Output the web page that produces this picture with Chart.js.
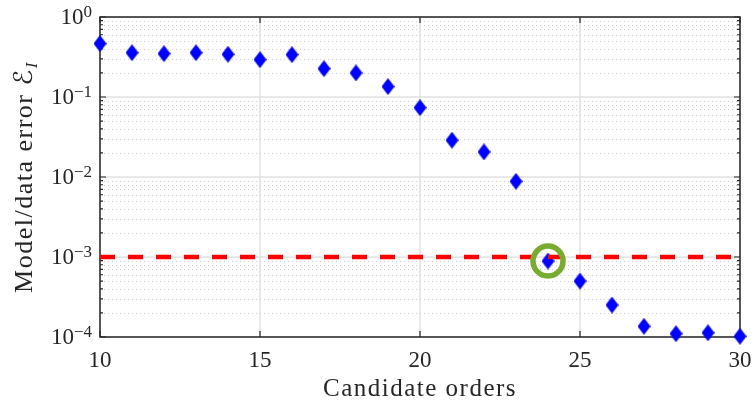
<!DOCTYPE html>
<html>
<head>
<meta charset="utf-8">
<script src="https://cdn.jsdelivr.net/npm/chart.js@4.4.1/dist/chart.umd.min.js"></script>
<style>
  html, body { margin: 0; padding: 0; background: #fff; }
  #chart { display: block; }
</style>
</head>
<body>
<canvas id="chart" width="753" height="405" style="width:753px;height:405px"></canvas>
<script>
// candidate orders and model/data error
const orders = [10, 11, 12, 13, 14, 15, 16, 17, 18, 19, 20, 21, 22, 23, 24, 25, 26, 27, 28, 29, 30];
const errors = [0.465, 0.358, 0.348, 0.358, 0.342, 0.293, 0.338, 0.226, 0.2, 0.135, 0.0736,
  0.0288, 0.0206, 0.00883, 0.00089, 0.0005, 0.000251, 0.000136, 0.00011, 0.000113, 0.000102];
const threshold = 1e-3;
const selectedOrder = [24];
const selectedError = [0.00089];
const xTicks = [10, 15, 20, 25, 30];
const yExponents = [0, -1, -2, -3, -4];

const textColor = "#262626";
const serif = "'Liberation Serif', 'DejaVu Serif', serif";

function makeDiamond(w, h, color) {
  const c = document.createElement("canvas");
  c.width = w;
  c.height = h;
  const g = c.getContext("2d");
  g.fillStyle = color;
  g.beginPath();
  g.moveTo(w / 2, 0);
  g.lineTo(w, h / 2);
  g.lineTo(w / 2, h);
  g.lineTo(0, h / 2);
  g.closePath();
  g.fill();
  return c;
}

const axesDecor = {
  id: "axesDecor",
  beforeDatasetsDraw(chart) {
    const { ctx, chartArea: a, scales: { x, y } } = chart;
    ctx.save();
    // minor y grid (dotted)
    ctx.strokeStyle = "#cfcfcf";
    ctx.lineWidth = 1;
    ctx.setLineDash([1, 3]);
    for (let d = -4; d < 0; d++) {
      for (let m = 2; m <= 9; m++) {
        const py = Math.round(y.getPixelForValue(m * Math.pow(10, d))) + 0.5;
        ctx.beginPath();
        ctx.moveTo(a.left, py);
        ctx.lineTo(a.right, py);
        ctx.stroke();
      }
    }
    // major grid
    ctx.setLineDash([]);
    ctx.strokeStyle = "#e0e0e0";
    ctx.lineWidth = 1.5;
    yExponents.forEach((e) => {
      const py = y.getPixelForValue(Math.pow(10, e));
      ctx.beginPath();
      ctx.moveTo(a.left, py);
      ctx.lineTo(a.right, py);
      ctx.stroke();
    });
    xTicks.forEach((t) => {
      const px = x.getPixelForValue(t);
      ctx.beginPath();
      ctx.moveTo(px, a.top);
      ctx.lineTo(px, a.bottom);
      ctx.stroke();
    });
    // box
    ctx.strokeStyle = textColor;
    ctx.lineWidth = 1.5;
    ctx.strokeRect(a.left, a.top, a.right - a.left, a.bottom - a.top);
    // tick marks
    ctx.lineWidth = 1.2;
    ctx.beginPath();
    xTicks.forEach((t) => {
      const px = x.getPixelForValue(t);
      ctx.moveTo(px, a.bottom);
      ctx.lineTo(px, a.bottom - 6);
      ctx.moveTo(px, a.top);
      ctx.lineTo(px, a.top + 6);
    });
    for (let d = -4; d <= 0; d++) {
      const py = y.getPixelForValue(Math.pow(10, d));
      ctx.moveTo(a.left, py);
      ctx.lineTo(a.left + 6, py);
      ctx.moveTo(a.right, py);
      ctx.lineTo(a.right - 6, py);
      if (d < 0) {
        for (let m = 2; m <= 9; m++) {
          const pm = y.getPixelForValue(m * Math.pow(10, d));
          ctx.moveTo(a.left, pm);
          ctx.lineTo(a.left + 3, pm);
          ctx.moveTo(a.right, pm);
          ctx.lineTo(a.right - 3, pm);
        }
      }
    }
    ctx.stroke();
    ctx.restore();
  },
  afterDraw(chart) {
    const { ctx, chartArea: a, scales: { x, y } } = chart;
    ctx.save();
    ctx.fillStyle = textColor;
    ctx.textBaseline = "alphabetic";
    // y tick labels 10^n
    yExponents.forEach((e) => {
      const py = y.getPixelForValue(Math.pow(10, e));
      const sup = e === 0 ? "0" : "\u2212" + (-e);
      ctx.font = "17px " + serif;
      const supW = ctx.measureText(sup).width;
      const right = a.left - 8;
      ctx.textAlign = "left";
      ctx.fillText(sup, right - supW, py);
      ctx.font = "23px " + serif;
      ctx.textAlign = "right";
      ctx.fillText("10", right - supW, py + 7);
    });
    // x tick labels
    ctx.font = "23px " + serif;
    ctx.textAlign = "center";
    xTicks.forEach((t) => {
      ctx.fillText(String(t), x.getPixelForValue(t), 367);
    });
    // x title
    ctx.font = "25px " + serif;
    ctx.letterSpacing = "1.5px";
    ctx.fillText("Candidate orders", (a.left + a.right) / 2, 396);
    // y title, rotated
    ctx.letterSpacing = "1.5px";
    ctx.translate(32, (a.top + a.bottom) / 2);
    ctx.rotate(-Math.PI / 2);
    const main = "Model/data error ";
    const script = "\u2130";
    const sub = "I";
    const fMain = "26px " + serif;
    const fScript = "26px 'DejaVu Serif', 'DejaVu Sans', serif";
    const fSub = "italic 17px " + serif;
    ctx.font = fMain;
    const wMain = ctx.measureText(main).width;
    ctx.font = fScript;
    const wScript = ctx.measureText(script).width;
    ctx.font = fSub;
    const wSub = ctx.measureText(sub).width;
    let cx = -(wMain + wScript + wSub) / 2;
    ctx.textAlign = "left";
    ctx.font = fMain;
    ctx.fillText(main, cx, 0);
    cx += wMain;
    ctx.font = fScript;
    ctx.fillText(script, cx, 0);
    cx += wScript;
    ctx.font = fSub;
    ctx.fillText(sub, cx, 5);
    ctx.restore();
  },
};

const ctx = document.getElementById("chart").getContext("2d");
const diamond = makeDiamond(13, 17, "#0000ff");

new Chart(ctx, {
  type: "scatter",
  data: {
    datasets: [
      {
        label: "error",
        data: orders.map((o, i) => ({ x: o, y: errors[i] })),
        pointStyle: diamond,
        showLine: false,
        clip: false,
        order: 3,
      },
      {
        label: "threshold",
        data: [
          { x: orders[0], y: threshold },
          { x: orders[orders.length - 1], y: threshold },
        ],
        showLine: true,
        borderColor: "#ff0000",
        borderWidth: 4.5,
        borderDash: [15, 13],
        pointRadius: 0,
        order: 2,
      },
      {
        label: "selected",
        data: selectedOrder.map((o, i) => ({ x: o, y: selectedError[i] })),
        pointStyle: "circle",
        pointRadius: 15,
        pointBorderWidth: 5.5,
        pointBorderColor: "#77ac30",
        pointBackgroundColor: "rgba(0,0,0,0)",
        showLine: false,
        clip: false,
        order: 1,
      },
    ],
  },
  options: {
    responsive: false,
    animation: false,
    devicePixelRatio: 1,
    layout: { autoPadding: false, padding: { top: 17, right: 13, left: 0, bottom: 0 } },
    plugins: {
      legend: { display: false },
      tooltip: { enabled: false },
    },
    scales: {
      x: {
        type: "linear",
        min: 10,
        max: 30,
        afterFit: (scale) => {
          scale.height = 68;
        },
        grid: { display: false, drawTicks: false },
        border: { display: false },
        ticks: { display: false },
      },
      y: {
        type: "logarithmic",
        min: 1e-4,
        max: 1,
        afterFit: (scale) => {
          scale.width = 100;
        },
        grid: { display: false },
        border: { display: false },
        ticks: { display: false },
      },
    },
  },
  plugins: [axesDecor],
});
</script>
</body>
</html>
